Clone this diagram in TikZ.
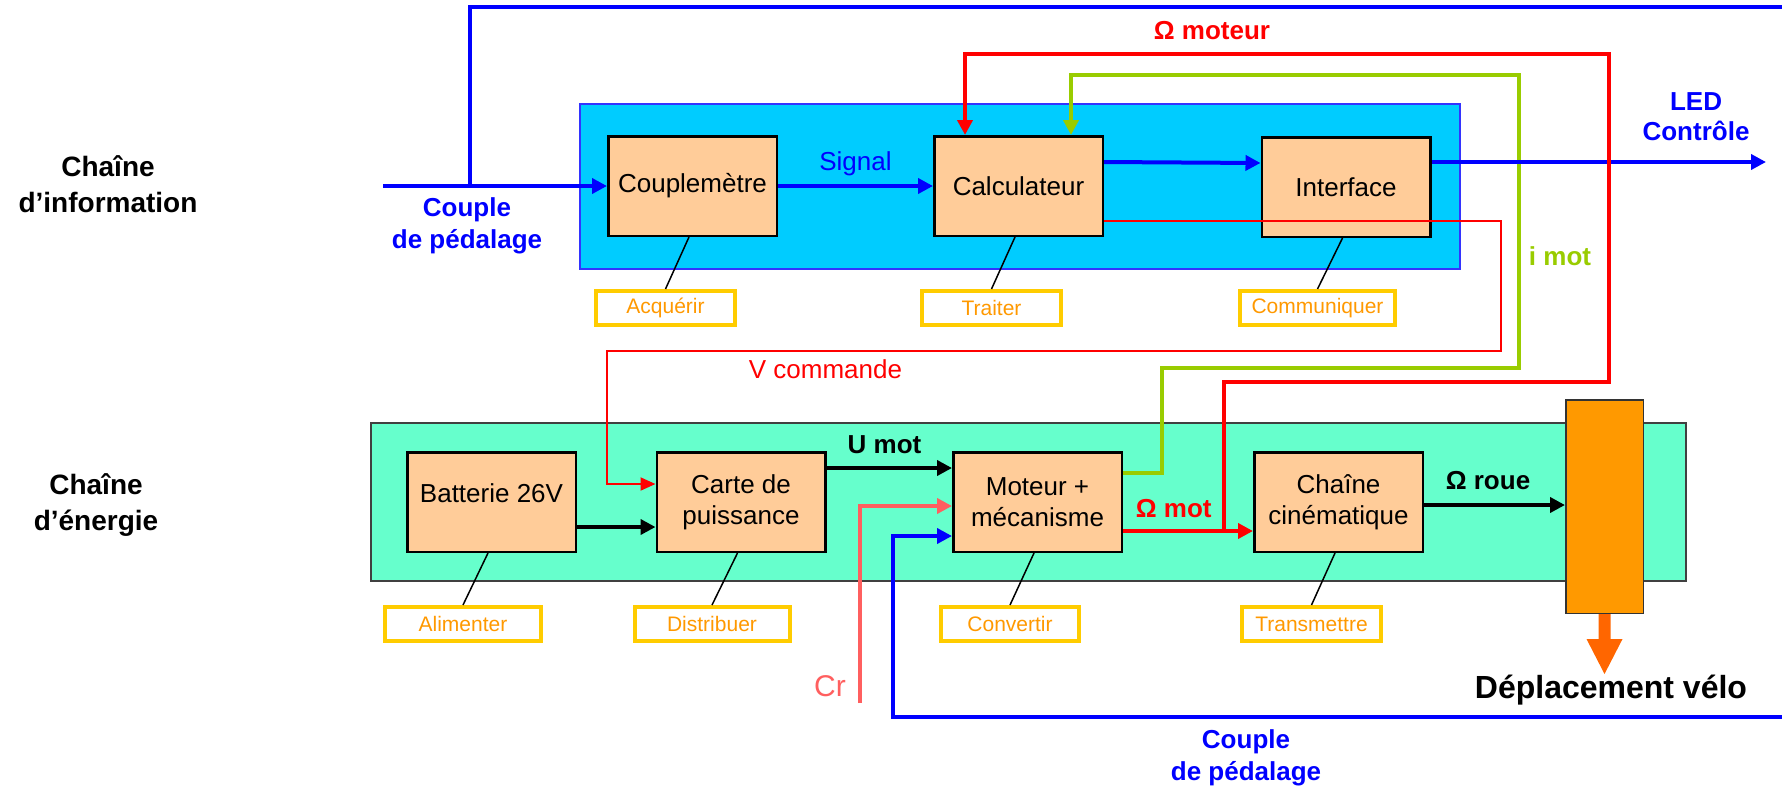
\documentclass[tikz,border=0pt]{standalone}
\usepackage{fontspec}
\setmainfont{Liberation Sans}
\usetikzlibrary{arrows.meta,calc}
\definecolor{infofill}{HTML}{00CCFF}
\definecolor{infodraw}{HTML}{3333FF}
\definecolor{enfill}{HTML}{66FFCC}
\definecolor{endraw}{HTML}{404040}
\definecolor{boxfill}{HTML}{FFCC99}
\definecolor{barfill}{HTML}{FF9900}
\definecolor{arrorange}{HTML}{FF6600}
\definecolor{funcborder}{HTML}{FFCC00}
\definecolor{functext}{HTML}{FF9900}
\definecolor{myblue}{HTML}{0000FF}
\definecolor{myred}{HTML}{FF0000}
\definecolor{mygreen}{HTML}{99CC00}
\definecolor{mysalmon}{HTML}{FF5F5F}
\begin{document}
\begin{tikzpicture}[x=1pt,y=-1pt,
  container/.style={line width=2pt,inner sep=0pt},
  box/.style={draw=black,line width=2.5pt,fill=boxfill,minimum width=168.5pt,minimum height=99.5pt,inner sep=0pt,align=center,font=\fontsize{26}{31}\selectfont},
  func/.style={draw=funcborder,line width=4pt,fill=white,minimum height=34pt,inner sep=0pt,text=functext,font=\fontsize{21}{24}\selectfont},
  conn/.style={line width=1.5pt,draw=black},
  tipbig/.style={-{Triangle[length=15pt,width=15pt]}},
  tipsmall/.style={-{Triangle[length=15pt,width=13pt]}},
  blueline/.style={line width=4pt,draw=myblue},
  redline/.style={line width=4pt,draw=myred},
  greenline/.style={line width=4pt,draw=mygreen},
  thinred/.style={line width=2pt,draw=myred},
  blackline/.style={line width=4.5pt,draw=black},
  salmonline/.style={line width=4pt,draw=mysalmon},
  lab/.style={font=\fontsize{26}{31}\selectfont,inner sep=0pt},
  blab/.style={font=\fontsize{26}{32}\bfseries\selectfont,inner sep=0pt,align=center},
  side/.style={font=\fontsize{28}{36}\bfseries\selectfont,inner sep=0pt,align=center}
]
\path[use as bounding box] (0,0) rectangle (1782,788);

% containers
\node[container,draw=infodraw,fill=infofill,minimum width=880pt,minimum height=165pt] (info) at (1020,186.5) {};
\node[container,draw=endraw,fill=enfill,minimum width=1315pt,minimum height=158pt] (energy) at (1028.5,502) {};

% side titles
\node[side] (tinfo) at (108,184) {Chaîne\\d’information};
\node[side] (tener) at (96,505) {Chaîne\\d’énergie};

% main boxes
\node[box] (coupl) at (692.5,186) {Couplemètre};
\node[box] (calc) at (1018.5,186) {Calculateur};
\node[box] (inter) at (1346,187) {Interface};
\node[box] (batt) at (491.5,502) {\raisebox{9pt}[\height][\depth]{Batterie 26V}};
\node[box] (carte) at (741,502) {Carte de\\puissance};
\node[box] (mot) at (1037.5,502) {Moteur +\\mécanisme};
\node[box] (cine) at (1338.5,502) {Chaîne\\cinématique};
\node[draw=black!80,line width=1.5pt,fill=barfill,minimum width=77.5pt,minimum height=213.5pt,inner sep=0pt] (bar) at (1604.5,506.5) {};

% function labels
\node[func,minimum width=139pt] (acq) at (665.5,308) {Acquérir};
\node[func,minimum width=139pt] (trait) at (991.5,308) {Traiter};
\node[func,minimum width=155pt] (comm) at (1317.5,308) {Communiquer};
\node[func,minimum width=156pt] (alim) at (463,624) {Alimenter};
\node[func,minimum width=155pt] (distr) at (712,624) {Distribuer};
\node[func,minimum width=138pt] (conv) at (1010,624) {Convertir};
\node[func,minimum width=139pt] (trans) at (1311.5,624) {Transmettre};

\draw[conn] ([xshift=-3.5pt]coupl.south) -- (acq.north);
\draw[conn] ([xshift=-3.5pt]calc.south) -- (trait.north);
\draw[conn] ([xshift=-3.5pt]inter.south) -- (comm.north);
\draw[conn] ([xshift=-3.5pt]batt.south) -- (alim.north);
\draw[conn] ([xshift=-3.5pt]carte.south) -- (distr.north);
\draw[conn] ([xshift=-3.5pt]mot.south) -- (conv.north);
\draw[conn] ([xshift=-3.5pt]cine.south) -- (trans.north);

% information chain connectors
\coordinate (inp) at (383,186);
\coordinate (br) at (470,186);
\coordinate (topright) at (1790,7);
\draw[blueline,tipbig] (inp) -- (coupl.west);
\draw[blueline] (br) |- (topright);
\draw[blueline,tipbig] (coupl.east) -- (calc.west);
\draw[blueline,tipbig] ([yshift=24pt]calc.east) -- ([yshift=24pt]inter.west);
\coordinate (led) at (1766,162);
\draw[greenline,tipbig] ([yshift=29pt]mot.east) -| (1162,368) -| (1519,75) -| ([xshift=52.5pt]calc.north);
\draw[blueline,tipbig] ([yshift=25pt]inter.east) -- (led);
\coordinate (om) at (1223.5,531);
\draw[redline,tipbig] (om) |- (1609,382) |- (965,54) -- ([xshift=-53.5pt]calc.north);
\draw[thinred,tipsmall] ([yshift=-35pt]calc.east) -| (1501,351) -| (607,484) -- ([yshift=18pt]carte.west);

% energy chain connectors
\draw[blackline,tipbig] ([yshift=-25pt]batt.east) -- ([yshift=-25pt]carte.west);
\draw[blackline,tipbig] ([yshift=34pt]carte.east) -- ([yshift=34pt]mot.west);
\coordinate (cr) at (860,703);
\draw[salmonline,tipbig] (cr) |- ([yshift=-4pt]mot.west);
\coordinate (cpb) at (1790,717);
\draw[blueline,tipbig] (cpb) -| (893,536) -- ([yshift=-34pt]mot.west);
\draw[redline,line width=4.5pt,tipbig] ([yshift=-29pt]mot.east) -- ([yshift=-29pt]cine.west);
\draw[blackline,tipbig] ([yshift=-3pt]cine.east) -- ([yshift=-3pt]cine.east -| bar.west);
\fill[arrorange] ([xshift=-6pt]bar.south) -- ++(0,25) -- ++(-12,0) -- ++(18,35) -- ++(18,-35) -- ++(-12,0) -- ++(0,-25) -- cycle;

% labels
\node[lab,anchor=base,text=myblue] (sig) at (855.5,170) {Signal};
\node[blab,text=myblue] (cpl1) at (467,226) {Couple\\de pédalage};
\node[blab,font=\fontsize{26}{30}\bfseries\selectfont,text=myblue] (ledl) at (1696,117) {LED\\Contrôle};
\node[blab,anchor=base,text=myred] (omot) at (1212,39) {Ω moteur};
\node[blab,anchor=base,text=mygreen] (imot) at (1560,265) {i mot};
\node[lab,anchor=base,text=myred] (vcom) at (825.5,378) {V commande};
\node[blab,anchor=base] (umot) at (884.5,453) {U mot};
\node[blab,anchor=base,text=myred] (omm) at (1173.7,517) {Ω mot};
\node[blab,anchor=base] (orou) at (1488,489) {Ω roue};
\node[lab,anchor=base,font=\fontsize{30}{34}\selectfont,text=mysalmon] (crl) at (830,696.5) {Cr};
\node[blab,anchor=base,font=\fontsize{32}{36}\bfseries\selectfont] (depl) at (1611,698) {Déplacement vélo};
\node[blab,text=myblue] (cpl2) at (1246,758) {Couple\\de pédalage};
\end{tikzpicture}
\end{document}
